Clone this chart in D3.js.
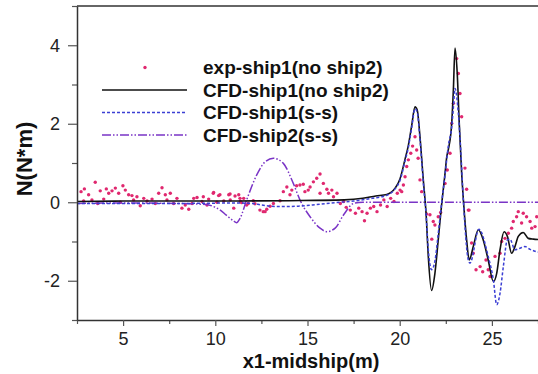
<!DOCTYPE html>
<html>
<head>
<meta charset="utf-8">
<script src="https://d3js.org/d3.v7.min.js"></script>
<style>
  body { margin: 0; background: #fff; font-family: 'Liberation Sans', Arial, sans-serif; }
</style>
</head>
<body>
<div id="chart"></div>
<script>
// experimental points, ship1 alone
const expX = [2.72,2.86,2.90,3.13,3.31,3.49,3.62,3.76,3.95,4.09,4.22,4.40,4.58,4.76,4.85,4.99,5.12,5.30,5.48,5.57,5.75,5.93,6.12,6.30,6.57,6.75,6.93,7.11,7.29,7.38,7.56,7.74,7.92,8.19,8.37,8.56,8.74,8.83,9.01,9.28,9.35,9.55,9.64,9.89,9.91,10.09,10.18,10.25,10.46,10.73,10.80,10.81,11.00,11.07,11.27,11.34,11.36,11.43,11.54,11.70,11.79,12.06,12.15,12.42,12.60,12.70,12.79,12.97,13.15,13.51,13.69,13.88,14.05,14.15,14.41,14.59,14.77,14.86,15.04,15.14,15.32,15.50,15.68,15.68,15.86,16.05,16.14,16.32,16.41,16.60,16.78,16.96,17.10,17.32,17.60,17.78,17.96,18.09,18.23,18.41,18.59,18.77,18.96,19.14,19.32,19.51,19.69,19.87,20.02,20.11,20.20,20.29,20.38,20.47,20.60,20.70,20.83,20.92,21.00,21.10,21.19,21.46,21.64,21.74,21.82,21.91,22.09,22.22,22.46,22.58,22.73,22.82,22.91,23.09,23.18,23.27,23.36,23.54,23.63,23.72,23.76,23.90,23.99,24.14,24.36,24.50,24.68,24.80,24.90,25.17,25.44,25.53,25.71,25.89,26.07,26.16,26.34,26.43,26.61,26.70,26.88,27.07,27.16,27.34,27.43];
const expY = [0.27,0.03,0.34,0.19,0.06,0.51,-0.03,0.29,0.08,0.34,0.23,0.29,0.36,0.23,0.00,0.42,0.31,0.19,0.17,0.06,0.14,-0.09,0.10,0.03,0.08,-0.03,0.23,0.37,0.19,0.06,0.23,-0.03,0.10,-0.15,-0.07,-0.18,-0.03,0.10,0.12,0.02,0.14,-0.07,0.08,0.23,0.25,0.00,0.17,0.19,0.03,0.19,0.21,0.06,-0.15,0.16,0.19,0.10,0.02,-0.01,0.10,-0.07,-0.03,0.04,-0.04,-0.20,-0.24,-0.24,-0.18,-0.10,-0.03,0.04,0.27,0.39,0.19,0.31,0.42,0.44,0.46,0.27,0.31,0.39,0.52,0.61,0.72,0.23,0.48,0.33,0.23,0.31,0.14,0.23,-0.03,0.02,-0.13,-0.20,-0.28,-0.15,-0.24,-0.47,-0.28,-0.15,-0.11,-0.24,-0.07,0.06,-0.11,0.10,0.02,0.23,0.31,0.27,0.44,0.65,0.91,1.08,1.25,1.43,1.67,1.33,1.12,0.57,0.27,-0.30,-0.32,-0.94,-0.49,-0.58,-0.37,-0.26,0.48,0.82,1.25,2.01,2.52,3.66,3.28,2.77,2.18,0.87,0.33,-0.20,-0.20,-1.04,-1.30,-1.72,-1.64,-1.77,-1.47,-1.72,-1.89,-1.38,-1.30,-1.00,-0.92,-0.79,-0.66,-0.49,-0.37,-0.24,-0.53,-0.28,-0.37,-0.49,-0.66,-0.62,-0.37];

// CFD ship1 alone (no ship2)
const cfd1X = [2.5,5,10,14,17,18,18.7,19.3,19.75,20.02,20.29,20.47,20.65,20.83,20.95,21.1,21.28,21.43,21.55,21.73,21.91,22.09,22.28,22.46,22.55,22.64,22.82,22.91,23.0,23.12,23.23,23.36,23.48,23.63,23.77,23.99,24.26,24.53,24.8,25.08,25.26,25.44,25.66,25.84,26.07,26.25,26.43,26.7,26.97,27.25,27.5];
const cfd1Y = [0.02,0.03,0.03,0.04,0.06,0.1,0.16,0.2,0.36,0.6,1.1,1.45,1.95,2.43,2.35,1.67,0.57,-0.28,-1.38,-2.25,-1.81,-0.96,-0.03,0.74,1.15,1.35,2.01,2.86,3.93,3.28,2.01,0.74,-0.11,-0.96,-1.47,-1.13,-0.7,-0.96,-1.47,-2.02,-1.81,-1.21,-0.75,-0.87,-1.3,-1.13,-0.87,-0.77,-0.92,-0.94,-0.95];

// CFD ship1, side by side
const cfdSsX = [2.5,8,11,12,12.5,13.5,14.5,15.5,16.5,17.5,18.5,19.3,19.75,20.02,20.29,20.47,20.65,20.83,20.95,21.1,21.28,21.43,21.55,21.73,21.91,22.09,22.28,22.46,22.64,22.82,22.91,23.0,23.18,23.31,23.45,23.72,23.81,24.3,24.8,25.08,25.26,25.44,25.62,25.84,25.98,26.25,26.52,26.79,27.07,27.43,27.5];
const cfdSsY = [-0.03,-0.03,-0.02,-0.03,-0.07,-0.11,-0.1,-0.06,-0.01,0.03,0.1,0.18,0.34,0.56,1.05,1.4,1.9,2.38,2.3,1.6,0.5,-0.3,-1.2,-1.72,-1.5,-0.8,0.0,0.7,1.45,1.92,2.4,2.9,2.26,1.33,0.06,-1.47,-1.55,-0.69,-1.38,-1.98,-2.61,-2.32,-1.64,-0.96,-0.94,-1.21,-1.17,-1.13,-1.2,-1.26,-1.27];

// CFD ship2, side by side
const cfd2X = [2.5,5,8,9.5,10.0,10.27,10.6,11.0,11.15,11.34,11.7,12.24,12.7,13.15,13.69,14.23,14.59,15.14,15.68,16.05,16.5,16.96,17.5,18,27.5];
const cfd2Y = [-0.03,-0.02,-0.03,-0.06,-0.13,-0.2,-0.33,-0.48,-0.52,-0.41,0.06,0.69,1.03,1.12,0.99,0.48,0.06,-0.37,-0.66,-0.75,-0.66,-0.32,-0.03,0.0,0.0];

const legendLabels = ["exp-ship1(no ship2)", "CFD-ship1(no ship2)", "CFD-ship1(s-s)", "CFD-ship2(s-s)"];
const xMajor = [5, 10, 15, 20, 25];
const xMinor = [2.5, 7.5, 12.5, 17.5, 22.5, 27.5];
const yMajor = [-2, 0, 2, 4];
const yMinor = [-3, -1, 1, 3, 5];

const W = 538, H = 374;
const margin = {top: 6, right: 0, bottom: 54, left: 77},
      width = W - margin.left - margin.right,
      height = H - margin.top - margin.bottom;

const svg = d3.select("#chart").append("svg")
    .attr("width", W).attr("height", H);
const g = svg.append("g")
    .attr("transform", `translate(${margin.left},${margin.top})`);

const x = d3.scaleLinear().domain([2.5, 27.5]).range([0, width]);
const y = d3.scaleLinear().domain([-3, 5]).range([height, 0]);

const ptColor = "#e0286f";
const blue = "#3b3fd4";
const purple = "#7a34c6";

const zip = (xs, ys) => xs.map((v, i) => [v, ys[i]]);
const line = d3.line().x(d => x(d[0])).y(d => y(d[1])).curve(d3.curveMonotoneX);

// top frame line
g.append("line").attr("x1", 0).attr("x2", width).attr("y1", 0).attr("y2", 0)
  .attr("stroke", "#333").attr("stroke-width", 1.5);

// experiments
g.append("g").selectAll("circle")
  .data(zip(expX, expY))
  .join("circle")
    .attr("cx", d => x(d[0]))
    .attr("cy", d => y(d[1]))
    .attr("r", 1.7)
    .attr("fill", ptColor);

// curves
g.append("path").datum(zip(cfd2X, cfd2Y))
  .attr("d", line).attr("fill", "none")
  .attr("stroke", purple).attr("stroke-width", 1.5)
  .attr("stroke-dasharray", "9,2,1.5,2,1.5,2");

g.append("path").datum(zip(cfd1X, cfd1Y))
  .attr("d", line).attr("fill", "none")
  .attr("stroke", "#111").attr("stroke-width", 1.6);

g.append("path").datum(zip(cfdSsX, cfdSsY))
  .attr("d", line).attr("fill", "none")
  .attr("stroke", blue).attr("stroke-width", 1.5)
  .attr("stroke-dasharray", "3,2");

// axes
function styleAxis(sel) {
  sel.selectAll(".domain").attr("stroke", "#333").attr("stroke-width", 1.5);
  sel.selectAll(".tick line").attr("stroke", "#555").attr("stroke-width", 1.2);
  sel.selectAll(".tick text").attr("font-size", 18).attr("fill", "#222")
     .attr("font-family", "'Liberation Sans', Arial, sans-serif");
}
const plain = d => String(d);

g.append("g").call(d3.axisLeft(y).tickValues(yMinor).tickSize(5).tickFormat(""))
  .call(s => s.select(".domain").remove())
  .call(styleAxis);
g.append("g").call(d3.axisLeft(y).tickValues(yMajor).tickSize(9).tickPadding(8).tickSizeOuter(0).tickFormat(plain))
  .call(styleAxis);

g.append("g").attr("transform", `translate(0,${height})`)
  .call(d3.axisBottom(x).tickValues(xMinor).tickSize(4).tickFormat(""))
  .call(s => s.select(".domain").remove())
  .call(styleAxis);
g.append("g").attr("transform", `translate(0,${height})`)
  .call(d3.axisBottom(x).tickValues(xMajor).tickSize(6).tickPadding(6).tickSizeOuter(0).tickFormat(plain))
  .call(styleAxis);

// axis titles
svg.append("text")
  .attr("x", 311).attr("y", 368)
  .attr("text-anchor", "middle")
  .attr("font-size", 20).attr("font-weight", "bold").attr("fill", "#111")
  .text("x1-midship(m)");

svg.append("text")
  .attr("transform", "translate(32,159) rotate(-90)")
  .attr("text-anchor", "middle")
  .attr("font-size", 22).attr("font-weight", "bold").attr("fill", "#111")
  .text("N(N*m)");

// legend
const leg = svg.append("g");
legendLabels.forEach((lab, i) => {
  const base = 74 + i * 22.5;
  const ly = base - 6.5;
  if (i === 0) {
    leg.append("circle").attr("cx", 145).attr("cy", ly).attr("r", 1.7).attr("fill", ptColor);
  } else {
    const s = leg.append("line").attr("x1", 102).attr("x2", 187).attr("y1", ly).attr("y2", ly)
      .attr("stroke-width", 1.5);
    if (i === 1) s.attr("stroke", "#111");
    if (i === 2) s.attr("stroke", blue).attr("stroke-dasharray", "3,2");
    if (i === 3) s.attr("stroke", purple).attr("stroke-dasharray", "9,2,1.5,2,1.5,2");
  }
  leg.append("text").attr("x", 203).attr("y", base)
    .attr("font-size", 19).attr("font-weight", "bold").attr("fill", "#111")
    .text(lab);
});
</script>
</body>
</html>
